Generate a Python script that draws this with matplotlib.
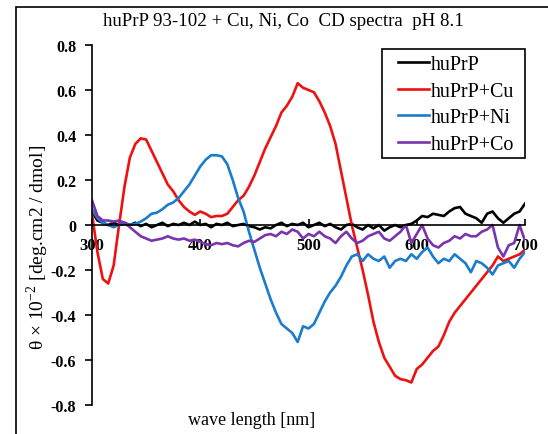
import matplotlib
matplotlib.use("Agg")
import matplotlib.pyplot as plt
from matplotlib.patches import Rectangle

wavelength = list(range(300, 701, 5))

huPrP = [0.06, 0.02, 0.01, 0.0, 0.01, 0.0, 0.01, 0.0, 0.01, -0.005,
         0.005, -0.01, 0.0, 0.01, -0.005, 0.005, 0.0, 0.01, 0.0, 0.015,
         0.0, 0.005, -0.01, 0.005, 0.0, 0.01, -0.005, 0.0, 0.005, -0.005,
         -0.01, -0.02, -0.01, -0.015, 0.0, 0.01, -0.005, 0.005, 0.0, 0.01,
         -0.01, 0.0, 0.01, -0.005, 0.005, -0.01, -0.02, 0.0, 0.005, -0.01,
         -0.02, 0.0, -0.015, 0.0, -0.025, -0.01, 0.0, -0.01, 0.0, 0.005,
         0.02, 0.04, 0.035, 0.05, 0.045, 0.04, 0.06, 0.075, 0.08, 0.05,
         0.04, 0.03, 0.01, 0.05, 0.06, 0.03, 0.01, 0.03, 0.05, 0.06, 0.095]

huPrP_Cu = [0.05, -0.12, -0.24, -0.26, -0.18, 0.0, 0.17, 0.30, 0.36, 0.385,
            0.38, 0.33, 0.28, 0.23, 0.18, 0.15, 0.11, 0.08, 0.06, 0.045,
            0.06, 0.05, 0.035, 0.04, 0.04, 0.05, 0.08, 0.11, 0.13, 0.17,
            0.22, 0.28, 0.34, 0.39, 0.44, 0.50, 0.53, 0.57, 0.63, 0.61,
            0.60, 0.59, 0.55, 0.50, 0.44, 0.36, 0.24, 0.12, 0.0, -0.10,
            -0.20, -0.31, -0.43, -0.52, -0.59, -0.63, -0.67, -0.685, -0.69, -0.70,
            -0.64, -0.62, -0.59, -0.56, -0.54, -0.49, -0.43, -0.39, -0.36, -0.33,
            -0.30, -0.27, -0.24, -0.21, -0.18, -0.14, -0.16, -0.15, -0.14, -0.13, -0.11]

huPrP_Ni = [0.07, 0.03, 0.01, 0.0, -0.01, 0.0, 0.005, 0.0, 0.005, 0.015,
            0.03, 0.05, 0.055, 0.07, 0.09, 0.10, 0.12, 0.15, 0.18, 0.22,
            0.26, 0.29, 0.31, 0.31, 0.305, 0.27, 0.20, 0.12, 0.06, -0.03,
            -0.11, -0.19, -0.26, -0.33, -0.39, -0.44, -0.46, -0.48, -0.52, -0.45,
            -0.46, -0.44, -0.39, -0.34, -0.30, -0.27, -0.23, -0.18, -0.14, -0.13,
            -0.16, -0.13, -0.15, -0.16, -0.14, -0.19, -0.16, -0.15, -0.16, -0.13,
            -0.15, -0.12, -0.10, -0.14, -0.17, -0.15, -0.16, -0.13, -0.15, -0.17,
            -0.21, -0.16, -0.17, -0.19, -0.22, -0.18, -0.17, -0.16, -0.19, -0.15, -0.12]

huPrP_Co = [0.11, 0.04, 0.02, 0.02, 0.015, 0.02, 0.01, -0.01, -0.03, -0.05,
            -0.06, -0.07, -0.065, -0.06, -0.05, -0.06, -0.065, -0.06, -0.07, -0.065,
            -0.075, -0.085, -0.09, -0.08, -0.085, -0.08, -0.09, -0.095, -0.08, -0.07,
            -0.075, -0.06, -0.045, -0.04, -0.05, -0.03, -0.04, -0.02, -0.03, -0.06,
            -0.04, -0.05, -0.03, -0.05, -0.06, -0.08, -0.05, -0.03, -0.06, -0.08,
            -0.07, -0.05, -0.04, -0.03, -0.06, -0.07, -0.05, -0.03, 0.0, -0.08,
            -0.04, 0.0, -0.06, -0.09, -0.10, -0.08, -0.07, -0.05, -0.06, -0.04,
            -0.05, -0.05, -0.03, -0.02, 0.0, -0.10, -0.14, -0.09, -0.08, 0.0, -0.07]

series_labels = ["huPrP", "huPrP+Cu", "huPrP+Ni", "huPrP+Co"]
series_colors = ["#000000", "#ee1111", "#1b7ccc", "#7a35ad"]

x_ticks = [300, 400, 500, 600, 700]
x_ticklabels = ["300", "400", "500", "600", "700"]
y_ticks = [0.8, 0.6, 0.4, 0.2, 0.0, -0.2, -0.4, -0.6, -0.8]
y_ticklabels = ["0.8", "0.6", "0.4", "0.2", "0", "-0.2", "-0.4", "-0.6", "-0.8"]

title = "huPrP 93-102 + Cu, Ni, Co  CD spectra  pH 8.1"
xlabel = "wave length [nm]"
ylabel = "θ × 10$^{-2}$ [deg.cm2 / dmol]"

plt.rcParams['font.family'] = ['Liberation Serif', 'DejaVu Serif']
plt.rcParams['mathtext.fontset'] = 'custom'
plt.rcParams['mathtext.rm'] = 'Liberation Serif'

W, H = 548, 435
fig = plt.figure(figsize=(W / 100, H / 100), dpi=100)
fig.patch.set_facecolor('white')

# outer frame
fig.add_artist(Rectangle((16 / W, -0.2), 1.5, 1.2 - 8 / H, transform=fig.transFigure,
                         fill=False, edgecolor='black', linewidth=1.2))

ax = fig.add_axes([92 / W, 1 - 406 / H, (525 - 92) / W, (406 - 46) / H])
for ys, lab, col in zip([huPrP, huPrP_Cu, huPrP_Ni, huPrP_Co], series_labels, series_colors):
    ax.plot(wavelength, ys, color=col, linewidth=1.9, label=lab)

ax.set_xlim(300, 700)
ax.set_ylim(-0.8, 0.8)
ax.spines['top'].set_visible(False)
ax.spines['right'].set_visible(False)
ax.spines['bottom'].set_position(('data', 0))
ax.spines['bottom'].set_linewidth(1.2)
ax.spines['left'].set_linewidth(1.2)

ax.set_xticks(x_ticks)
ax.set_xticklabels(x_ticklabels, fontweight='bold', fontsize=12)
ax.set_yticks(y_ticks)
ax.set_yticklabels(y_ticklabels, fontweight='bold', fontsize=11.5)
ax.tick_params(axis='x', direction='in', length=4, width=1.2, pad=9)
ax.tick_params(axis='y', direction='out', length=5, width=1.2, pad=6.5)

# legend box drawn separately for exact placement
fig.add_artist(Rectangle((382 / W, 1 - 159 / H), (525 - 382) / W, (159 - 50) / H,
                         transform=fig.transFigure, fill=False, edgecolor='black',
                         linewidth=1.2, zorder=5))
leg = fig.legend(loc='upper left', bbox_to_anchor=(398 / W, 1 - 56 / H), fontsize=14.4,
                 frameon=False, handlelength=1.55, handletextpad=0.08,
                 labelspacing=0.38, borderpad=0, borderaxespad=0)

fig.text(283 / W, 1 - 22 / H, title, ha='center', va='center', fontsize=13.6)
fig.text(252 / W, 1 - 421 / H, xlabel, ha='center', va='center', fontsize=13)
fig.text(38 / W, 1 - 247 / H, ylabel, ha='center', va='center', rotation=90, fontsize=14)

fig.savefig("out.png", dpi=100)
